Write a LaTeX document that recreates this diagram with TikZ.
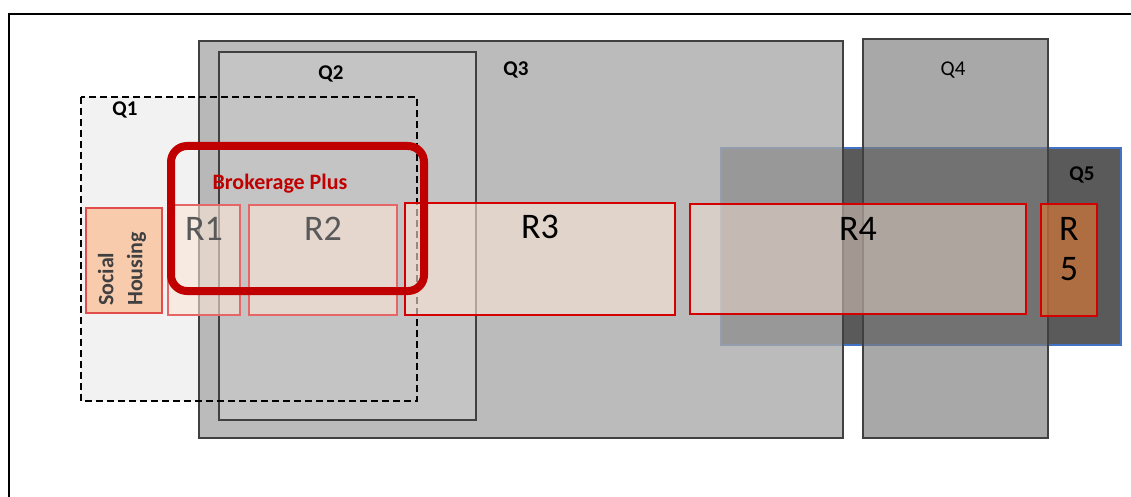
\documentclass[tikz,border=0pt]{standalone}
\usepackage{fontspec}
\setmainfont{Carlito}
\usetikzlibrary{positioning}
\definecolor{qlight}{HTML}{F2F2F2}
\definecolor{qtwo}{HTML}{C4C4C4}
\definecolor{qthree}{HTML}{A9A9A9}
\definecolor{qfour}{HTML}{7E7E7E}
\definecolor{qfive}{HTML}{5A5A5A}
\definecolor{qedge}{HTML}{404040}
\definecolor{qblue}{HTML}{4472C4}
\definecolor{rpeach}{HTML}{FBE5D6}
\definecolor{shpeach}{HTML}{F8CBAD}
\definecolor{rorange}{HTML}{ED7D31}
\definecolor{rline}{HTML}{D40000}
\definecolor{bpred}{HTML}{C00000}
\definecolor{rgrey}{HTML}{595959}

\begin{document}
\begin{tikzpicture}[x=1pt, y=-1pt]
  \tikzset{
    box/.style={inner sep=0pt, outer sep=0pt, anchor=north west},
    qbox/.style={box, draw=qedge, line width=1.5pt},
    rbox/.style={box, draw=rline, line width=2pt, fill=rpeach, fill opacity=0.6, draw opacity=1},
    qlabel/.style={font=\fontsize{21}{24}\selectfont\bfseries, text=black},
    rlabel/.style={font=\fontsize{36}{40}\selectfont, inner sep=0pt, align=center}
  }
  \useasboundingbox (0,0) rectangle (1131,497);
  \draw[line width=2pt] (9,505) -- (9,14) -- (1140,14);

  % zones Q1 to Q5
  \node[box, fill=qlight, minimum width=336, minimum height=304] (q1) at (81,97) {};
  \node[box, fill=qfive, draw=qblue, line width=1.5pt, minimum width=400, minimum height=197] (q5) at (721,148) {};
  \node[qbox, fill=qthree, fill opacity=0.79, minimum width=644, minimum height=397] (q3) at (199,41) {};
  \node[qbox, fill=qtwo, minimum width=257, minimum height=368] (q2) at (219,52) {};
  \node[qbox, fill=qfour, fill opacity=0.67, minimum width=185, minimum height=399] (q4) at (863,39) {};
  \draw[line width=2pt, dash pattern=on 7pt off 4pt] (q1.north west) rectangle (q1.south east);

  \node[qlabel] (q1lab) at (125,110) {Q1};
  \node[qlabel] (q2lab) at (331,74) {Q2};
  \node[qlabel] (q3lab) at (516,70) {Q3};
  \node[qlabel, font=\fontsize{21}{24}\selectfont] (q4lab) at (953,70) {Q4};
  \node[qlabel] (q5lab) at (1082,175) {Q5};

  % rungs
  \node[box, draw=rline!70, line width=1.5pt, fill=shpeach, minimum width=76, minimum height=105] (sh) at (86,208) {};
  \node[rbox, draw=rline!60, minimum width=72, minimum height=110] (r1) at (168,205) {};
  \node[rbox, draw=rline!60, minimum width=148, minimum height=110] (r2) at (249,205) {};
  \node[rbox, minimum width=270, minimum height=112] (r3) at (405,203) {};
  \node[rbox, fill opacity=0.45, minimum width=336, minimum height=110] (r4) at (690,204) {};
  \node[rbox, fill=rorange, fill opacity=0.585, line width=2.5pt, minimum width=56, minimum height=112] (r5) at (1041,204) {};

  \node[rlabel, text=rgrey, below=12pt of r1.north] (r1lab) {R1};
  \node[rlabel, text=rgrey, below=12pt of r2.north] (r2lab) {R2};
  \node[rlabel, below=12pt of r3.north] (r3lab) {R3};
  \node[rlabel, below=13pt of r4.north] (r4lab) {R4};
  \node[rlabel, below=13pt of r5.north] (r5lab) {R\\5};
  \node[rotate=90, anchor=west, align=left, inner sep=0pt, text=qedge,
        font=\fontsize{22}{29}\selectfont\bfseries] (shlab) at (122,306) {Social\\Housing};

  % brokerage plus
  \node[box, draw=bpred, line width=8pt, rounded corners=16pt, minimum width=253, minimum height=145] (bplus) at (171,146) {};
  \node[font=\fontsize{22}{26}\selectfont\bfseries, text=bpred, inner sep=0pt] (bplab) at (280,184) {Brokerage Plus};
\end{tikzpicture}
\end{document}
